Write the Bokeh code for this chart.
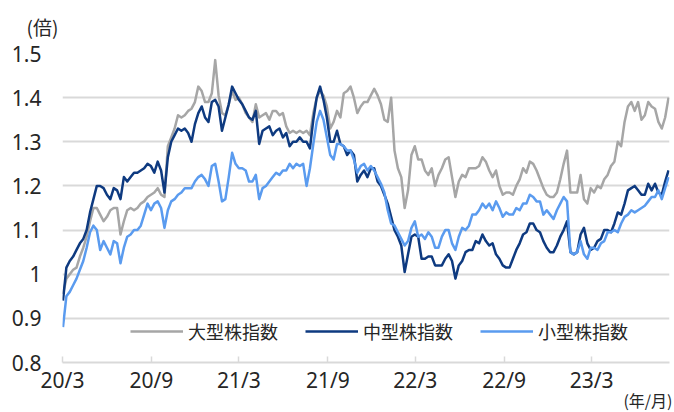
import pandas as pd
from bokeh.plotting import figure
from bokeh.models import FixedTicker, Legend, LegendItem, Range1d, Title
from bokeh.embed import file_html
from bokeh.resources import INLINE

# ---- data (weekly readings, normalized index) ----
start_date = "2020-03-02"

large_cap = [
    0.955, 0.99, 1.0, 1.01, 1.015, 1.04, 1.06, 1.085, 1.12, 1.15,
    1.15, 1.135, 1.12, 1.13, 1.145, 1.15, 1.15, 1.09, 1.12, 1.145,
    1.15, 1.145, 1.15, 1.16, 1.165, 1.175, 1.18, 1.185, 1.195, 1.18,
    1.175, 1.29, 1.31, 1.33, 1.36, 1.355, 1.36, 1.37, 1.375, 1.39,
    1.425, 1.415, 1.39, 1.39, 1.41, 1.485, 1.405, 1.365, 1.36, 1.385,
    1.415, 1.395, 1.4, 1.385, 1.365, 1.355, 1.345, 1.385, 1.355, 1.36,
    1.365, 1.35, 1.37, 1.37, 1.36, 1.365, 1.335, 1.32, 1.325, 1.32,
    1.325, 1.32, 1.325, 1.315, 1.365, 1.4, 1.415, 1.405, 1.38, 1.33,
    1.345, 1.37, 1.355, 1.41, 1.415, 1.425, 1.4, 1.365, 1.38, 1.39,
    1.39, 1.405, 1.42, 1.405, 1.385, 1.35, 1.345, 1.4, 1.28, 1.24,
    1.22, 1.15, 1.19, 1.27, 1.29, 1.26, 1.26, 1.235, 1.225, 1.24,
    1.2, 1.225, 1.24, 1.26, 1.265, 1.22, 1.175, 1.21, 1.225, 1.22,
    1.24, 1.24, 1.24, 1.245, 1.265, 1.255, 1.235, 1.22, 1.235, 1.2,
    1.18, 1.185, 1.185, 1.18, 1.2, 1.215, 1.24, 1.23, 1.255, 1.25,
    1.235, 1.215, 1.195, 1.18, 1.175, 1.175, 1.185, 1.215, 1.25, 1.28,
    1.185, 1.185, 1.185, 1.225, 1.17, 1.16, 1.195, 1.185, 1.2, 1.195,
    1.215, 1.225, 1.245, 1.255, 1.3, 1.29, 1.345, 1.38, 1.39, 1.37,
    1.39, 1.35, 1.36, 1.39, 1.38, 1.375, 1.345, 1.33, 1.355, 1.4,
]

mid_cap = [
    0.94, 1.015, 1.03, 1.04, 1.055, 1.07, 1.08, 1.10, 1.14, 1.17,
    1.2, 1.2, 1.195, 1.18, 1.17, 1.195, 1.19, 1.17, 1.22, 1.21,
    1.22, 1.23, 1.23, 1.235, 1.24, 1.25, 1.245, 1.23, 1.255, 1.235,
    1.185, 1.265, 1.3, 1.315, 1.33, 1.325, 1.33, 1.32, 1.3, 1.34,
    1.365, 1.38, 1.355, 1.345, 1.39, 1.395, 1.38, 1.325, 1.355, 1.385,
    1.425, 1.41, 1.395, 1.385, 1.37, 1.355, 1.35, 1.37, 1.295, 1.325,
    1.33, 1.335, 1.315, 1.325, 1.33, 1.31, 1.32, 1.29, 1.3, 1.3,
    1.31, 1.3, 1.3, 1.285, 1.35, 1.4, 1.425, 1.395, 1.355, 1.3,
    1.3, 1.325, 1.295, 1.29, 1.27, 1.28, 1.27, 1.21, 1.225, 1.235,
    1.22, 1.24, 1.24, 1.21, 1.2, 1.18, 1.16, 1.13, 1.1, 1.085,
    1.065, 1.005, 1.045, 1.085, 1.09, 1.085, 1.035, 1.035, 1.04, 1.04,
    1.02, 1.02, 1.02, 1.035, 1.045, 1.03, 0.99, 1.02, 1.03, 1.05,
    1.055, 1.055, 1.075, 1.07, 1.09, 1.075, 1.065, 1.07, 1.045, 1.035,
    1.02, 1.015, 1.015, 1.035, 1.055, 1.07, 1.09, 1.095, 1.115, 1.115,
    1.1, 1.095, 1.075, 1.06, 1.05, 1.05, 1.065, 1.085, 1.1, 1.12,
    1.05, 1.045, 1.05, 1.09, 1.105, 1.07, 1.055, 1.06, 1.075, 1.08,
    1.1, 1.1, 1.095, 1.115, 1.14, 1.135, 1.16, 1.19, 1.195, 1.2,
    1.19, 1.18, 1.18, 1.205, 1.19, 1.205, 1.185, 1.18, 1.21, 1.235,
]

small_cap = [
    0.88, 0.95, 0.96, 0.975, 0.99, 1.01, 1.03, 1.06, 1.095, 1.11,
    1.1, 1.055, 1.075, 1.06, 1.045, 1.075, 1.07, 1.025, 1.06, 1.085,
    1.09, 1.1, 1.1, 1.11, 1.135, 1.16, 1.145, 1.16, 1.165, 1.15,
    1.105, 1.145, 1.165, 1.17, 1.18, 1.185, 1.195, 1.195, 1.195, 1.21,
    1.22, 1.225, 1.215, 1.2, 1.245, 1.25, 1.21, 1.165, 1.17, 1.22,
    1.275, 1.25, 1.24, 1.24, 1.235, 1.21, 1.21, 1.225, 1.17, 1.195,
    1.2, 1.21, 1.22, 1.23, 1.225, 1.235, 1.235, 1.25, 1.24, 1.25,
    1.245, 1.25, 1.2, 1.24, 1.295, 1.345, 1.37, 1.35, 1.31, 1.27,
    1.26, 1.295, 1.295, 1.29, 1.28, 1.28, 1.26, 1.23, 1.245, 1.25,
    1.235, 1.245, 1.235, 1.22, 1.205, 1.185, 1.145, 1.115, 1.11, 1.095,
    1.08, 1.065, 1.075, 1.105, 1.12, 1.085, 1.09, 1.08, 1.095, 1.085,
    1.06, 1.06, 1.085, 1.1, 1.1, 1.07, 1.055, 1.085, 1.105, 1.1,
    1.11, 1.135, 1.135, 1.145, 1.16, 1.15, 1.16, 1.145, 1.165, 1.15,
    1.13, 1.14, 1.135, 1.135, 1.15, 1.145, 1.16, 1.16, 1.18, 1.175,
    1.165, 1.165, 1.135, 1.145, 1.135, 1.125, 1.145, 1.16, 1.175, 1.165,
    1.05, 1.045, 1.05, 1.075, 1.045, 1.035, 1.06, 1.06, 1.055, 1.07,
    1.075, 1.095, 1.095, 1.1, 1.095, 1.115, 1.13, 1.135, 1.145, 1.14,
    1.145, 1.15, 1.155, 1.165, 1.175, 1.175, 1.19, 1.17, 1.195, 1.22,
]

series_names = ["大型株指数", "中型株指数", "小型株指数"]
series_colors = ["#a6a6a6", "#0e3a80", "#5a9bef"]

x_tick_dates = ["2020-03-01", "2020-09-01", "2021-03-01", "2021-09-01",
                "2022-03-01", "2022-09-01", "2023-03-01"]
x_tick_labels = ["20/3", "20/9", "21/3", "21/9", "22/3", "22/9", "23/3"]
y_ticks = [0.8, 0.9, 1.0, 1.1, 1.2, 1.3, 1.4, 1.5]
y_tick_labels = ["0.8", "0.9", "1", "1.1", "1.2", "1.3", "1.4", "1.5"]

y_unit = "(倍)"
x_unit = "(年/月)"

# ---- build ----
dates = pd.date_range(start_date, periods=len(large_cap), freq="7D")

def ms(d):
    return pd.Timestamp(d).value / 1e6

x_start = ms("2020-03-01")
x_end = ms("2023-08-09")

tick_font = "Noto Sans"
cjk_font = "Noto Sans CJK JP"
text_color = "#262626"

p = figure(width=674, height=412, x_axis_type="datetime",
           x_range=Range1d(x_start, x_end), y_range=Range1d(0.8, 1.5),
           output_backend="svg", toolbar_location=None,
           min_border_left=62, min_border_right=5,
           min_border_top=53, min_border_bottom=50)
p.outline_line_color = None
p.background_fill_color = "white"

# unit label of the value axis, top-left
p.title.text = y_unit
p.title.align = "left"
p.title.vertical_align = "top"
p.title.offset = -36
p.title.standoff = 23
p.title.text_font = cjk_font
p.title.text_font_size = "19px"
p.title.text_font_style = "normal"
p.title.text_color = text_color

renderers = []
for vals, col in zip([large_cap, mid_cap, small_cap], series_colors):
    r = p.line(dates, vals, line_color=col, line_width=2.5, line_join="round")
    renderers.append(r)

# x axis
x_ticks_ms = [ms(d) for d in x_tick_dates]
p.xaxis.ticker = FixedTicker(ticks=x_ticks_ms, minor_ticks=[])
p.xaxis.major_label_overrides = dict(zip(x_ticks_ms, x_tick_labels))
p.xaxis.axis_line_color = "#d9d9d9"
p.xaxis.axis_line_width = 2
p.xaxis.major_tick_line_color = "#d9d9d9"
p.xaxis.major_tick_line_width = 1.5
p.xaxis.major_tick_in = 6
p.xaxis.major_tick_out = 0
p.xaxis.minor_tick_line_color = None
p.xaxis.major_label_standoff = 3
p.xaxis.major_label_text_font = tick_font
p.xaxis.major_label_text_font_size = "21px"
p.xaxis.major_label_text_color = text_color

# unit label of the time axis, bottom-right
p.add_layout(Title(text=x_unit, align="right", offset=-3, standoff=-22,
                   vertical_align="bottom",
                   text_font=cjk_font, text_font_size="16px",
                   text_font_style="normal", text_color=text_color), "below")

# y axis
p.yaxis.ticker = FixedTicker(ticks=y_ticks, minor_ticks=[])
p.yaxis.major_label_overrides = dict(zip(y_ticks, y_tick_labels))
p.yaxis.axis_line_color = None
p.yaxis.major_tick_line_color = None
p.yaxis.minor_tick_line_color = None
p.yaxis.major_label_standoff = 15
p.yaxis.major_label_text_font = tick_font
p.yaxis.major_label_text_font_size = "21px"
p.yaxis.major_label_text_color = text_color

p.xgrid.grid_line_color = None
p.ygrid.ticker = FixedTicker(ticks=y_ticks, minor_ticks=[])
p.ygrid.grid_line_color = "#d9d9d9"
p.ygrid.grid_line_width = 2

# legend
items = [LegendItem(label=n, renderers=[r]) for n, r in zip(series_names, renderers)]
legend = Legend(items=items, orientation="horizontal", location=(68, 18),
                glyph_width=53, glyph_height=20, label_height=20,
                label_standoff=5, spacing=27, padding=0, margin=0,
                border_line_color=None, background_fill_alpha=0,
                label_text_font=cjk_font, label_text_font_size="18px",
                label_text_color=text_color)
p.add_layout(legend)

open("out.html", "w").write(file_html(p, INLINE))
